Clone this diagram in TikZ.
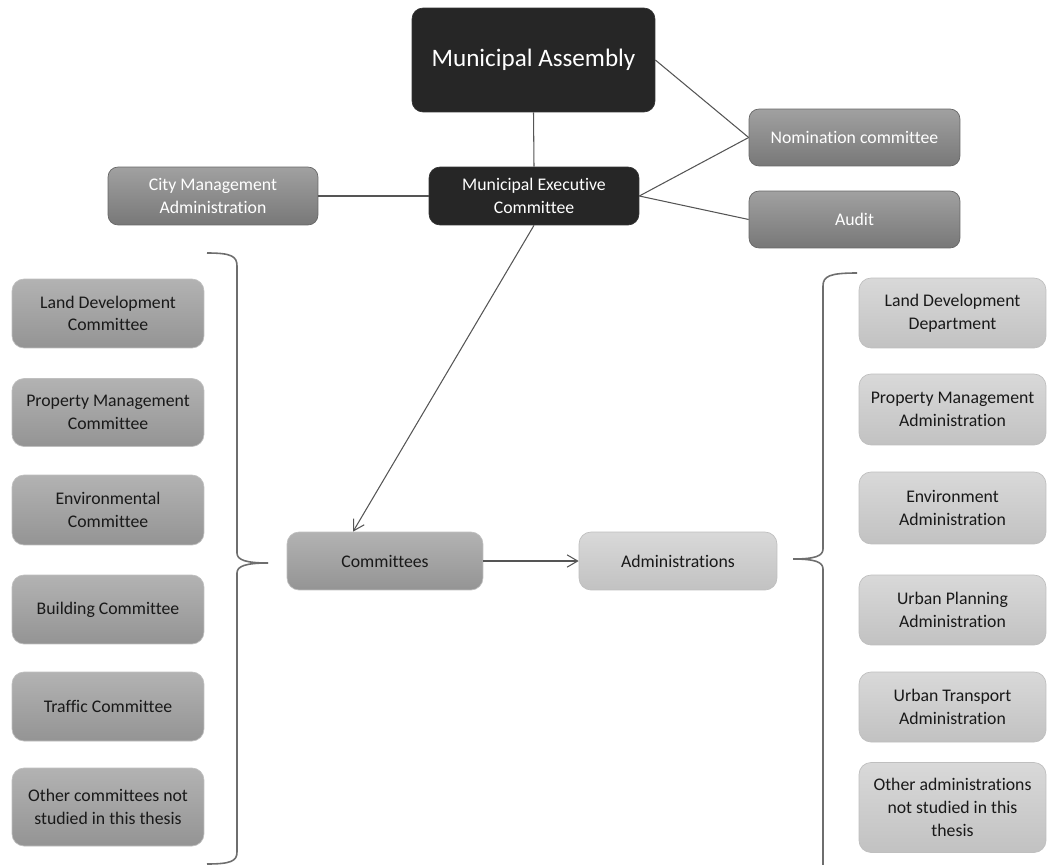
\documentclass[tikz,border=0pt]{standalone}
\usepackage{fontspec}
\setmainfont{Carlito}[Ligatures=NoCommon]
\usepackage{xcolor}
\usetikzlibrary{positioning, arrows.meta}

\definecolor{boxdark}{HTML}{262626}
\definecolor{linegray}{HTML}{555555}
\definecolor{bracegray}{HTML}{6E6E6E}

\begin{document}
\begin{tikzpicture}[
  x=0.02cm, y=-0.02cm,
  >={Straight Barb[length=6pt, width=7pt]},
  every node/.style={font=\fontsize{10.1}{12.9}\selectfont, align=center, inner sep=2pt},
  darkbox/.style={draw=black!80, fill=boxdark, text=white, rounded corners=0.22cm},
  midbox/.style={draw=black!60, top color=black!37, bottom color=black!53, text=white,
                 rounded corners=0.2cm},
  listbox/.style={draw=black!25, top color=black!30, bottom color=black!42, text=black!90,
                  rounded corners=0.24cm, minimum width=3.84cm},
  palebox/.style={draw=black!25, top color=black!15, bottom color=black!24, text=black!90,
                  rounded corners=0.24cm, minimum width=3.74cm},
  link/.style={draw=linegray, line width=0.6pt},
  brace/.style={draw=bracegray, line width=0.9pt}
]
\useasboundingbox (0,0) rectangle (1048,865);

% ---- Top of the organisation ----
\node[darkbox, minimum width=4.86cm, minimum height=2.08cm,
      font=\fontsize{14.3}{17}\selectfont] (assembly) at (533.5,60) {Municipal Assembly};
\node[darkbox, minimum width=4.2cm, minimum height=1.16cm] (exec) at (534,196)
  {Municipal Executive\\Committee};
\node[midbox, minimum width=4.2cm, minimum height=1.16cm] (city) at (213,196)
  {City Management\\Administration};
\node[midbox, minimum width=4.22cm, minimum height=1.14cm] (nomin) at (854.5,137.5)
  {Nomination committee};
\node[midbox, minimum width=4.22cm, minimum height=1.14cm] (audit) at (854.5,219.5)
  {Audit};

% ---- Centre: committees and administrations ----
\node[listbox, minimum width=3.92cm, minimum height=1.16cm] (committees) at (385,561)
  {Committees};
\node[palebox, minimum width=3.96cm, minimum height=1.16cm] (admins) at (678,561)
  {Administrations};

% ---- Left column: committees ----
\node[listbox, minimum height=1.38cm] (landcom) at (108,313.5) {Land Development\\Committee};
\node[listbox, minimum height=1.36cm] (propcom) at (108,412.5) {Property Management\\Committee};
\node[listbox, minimum height=1.4cm] (envcom) at (108,510) {Environmental\\Committee};
\node[listbox, minimum height=1.38cm] (buildcom) at (108,609.5) {Building Committee};
\node[listbox, minimum height=1.38cm] (trafcom) at (108,706.5) {Traffic Committee};
\node[listbox, minimum height=1.56cm] (othercom) at (108,807) {Other committees not\\studied in this thesis};

% ---- Right column: administrations ----
\node[palebox, minimum height=1.4cm] (landadm) at (952.5,313) {Land Development\\Department};
\node[palebox, minimum height=1.42cm] (propadm) at (952.5,409.5) {Property Management\\Administration};
\node[palebox, minimum height=1.44cm] (envadm) at (952.5,508) {Environment\\Administration};
\node[palebox, minimum height=1.4cm] (planadm) at (952.5,610) {Urban Planning\\Administration};
\node[palebox, minimum height=1.4cm] (transadm) at (952.5,707) {Urban Transport\\Administration};
\node[palebox, minimum height=1.8cm] (otheradm) at (952.5,807.5)
  {Other administrations\\not studied in this\\thesis};

% ---- Connectors ----
\draw[link] (assembly.south) -- (exec.north);
\draw[link] (assembly.east) -- (nomin.west);
\draw[link] (exec.east) -- (nomin.west);
\draw[link] (exec.east) -- (audit.west);
\draw[link] (city.east) -- (exec.west);
\draw[link, ->] (exec.south) -- ([xshift=-0.64cm]committees.north);
\draw[link, ->] (committees.east) -- (admins.west);

% ---- Braces ----
\draw[brace] (207,253) .. controls (231,253) and (237,256) .. (237,266) -- (237,553)
  .. controls (237,560) and (246,563) .. (268,563);
\draw[brace] (268,563) .. controls (246,563) and (237,566) .. (237,573) -- (237,852)
  .. controls (237,861) and (231,864) .. (207,864);
\draw[brace] (857,273) .. controls (830,273) and (823,276) .. (823,286) -- (823,549)
  .. controls (823,556) and (815,559) .. (793,559);
\draw[brace] (793,559) .. controls (815,559) and (823,562) .. (823,569) -- (823,866);

\end{tikzpicture}
\end{document}
